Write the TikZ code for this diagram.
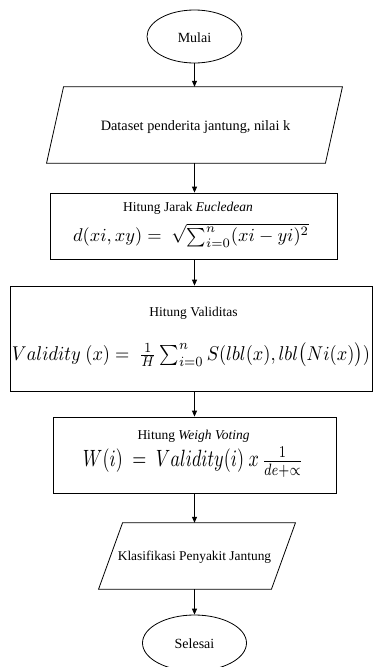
\documentclass[tikz,border=0pt]{standalone}
\usepackage{amsmath,graphicx}
\usepackage{fontspec}
\setmainfont{Liberation Serif}
\usetikzlibrary{arrows.meta,shapes.geometric}
\tikzset{
  line/.style={draw=black, line width=0.8pt},
  arr/.style={draw=black, line width=0.8pt, -{Triangle[length=6pt,width=5pt]}},
  term/.style={ellipse, line, inner sep=0pt},
  boxnode/.style={rectangle, line, inner sep=0pt},
  ghost/.style={rectangle, draw=none, inner sep=0pt},
  txt/.style={inner sep=0pt, font=\rmfamily\fontsize{13.5}{16}\selectfont},
}
\begin{document}
\begin{tikzpicture}[x=1pt,y=-1pt]
\useasboundingbox (0,0) rectangle (374,667);
\fill[white] (0,0) rectangle (374,667);

% start
\node[term, minimum width=95pt, minimum height=53pt] (start) at (194.5,36.5) {};
\node[txt, font=\rmfamily\fontsize{14}{16}\selectfont] (startT) at (194.5,37.5) {Mulai};

% input parallelogram
\node[ghost, minimum width=278.5pt, minimum height=76pt] (in) at (194.5,125) {};
\draw[line] ([xshift=8.5pt]in.north west) -- ([xshift=8.5pt]in.north east)
   -- ([xshift=-8.5pt]in.south east) -- ([xshift=-8.5pt]in.south west) -- cycle;
\node[txt, font=\rmfamily\fontsize{14.3}{16}\selectfont] (inT) at (195.5,127) {Dataset penderita jantung, nilai k};

% euclidean box
\node[boxnode, minimum width=287pt, minimum height=66pt] (euc) at (193.5,226) {};
\node[txt] (eucT) at (188,208.5) {Hitung Jarak \textit{Eucledean}};
\node[inner sep=0pt] (eucF) at (191,235) {\resizebox{236pt}{!}{$d(xi,xy) =\ \sqrt{\smash[b]{\textstyle\sum_{i=0}^{n}(xi-yi)^2}}$}};

% validity box
\node[boxnode, minimum width=362pt, minimum height=105pt] (val) at (191,338.5) {};
\node[txt] (valT) at (193.5,313) {Hitung Validitas};
\node[inner sep=0pt] (valF) at (191,355) {\resizebox*{358pt}{24pt}{$Validity\ (x) =\ \frac{1}{H}\textstyle\sum_{i=0}^{n} S(lbl(x), lbl\bigl(Ni(x)\bigr))$}};

% weight voting box
\node[boxnode, minimum width=283pt, minimum height=76pt] (wv) at (194.5,455) {};
\node[txt] (wvT) at (193.5,436.5) {Hitung \textit{Weigh Voting}};
\node[inner sep=0pt] (wvF) at (193,462) {\resizebox*{220pt}{30pt}{$W(i)\ =\ Validity(i)\ x\,\frac{1}{de+\propto}$}};

% output parallelogram
\node[ghost, minimum width=172.5pt, minimum height=66pt] (out) at (197,556) {};
\draw[line] ([xshift=12pt]out.north west) -- ([xshift=12pt]out.north east)
   -- ([xshift=-12pt]out.south east) -- ([xshift=-12pt]out.south west) -- cycle;
\node[txt, font=\rmfamily\fontsize{13.4}{16}\selectfont] (outT) at (194.5,557) {Klasifikasi Penyakit Jantung};

% end
\node[term, minimum width=104pt, minimum height=56pt] (stop) at (194.5,643) {};
\node[txt, font=\rmfamily\fontsize{14}{16}\selectfont] (stopT) at (194.5,644) {Selesai};

% connectors
\draw[arr] (start.south) -- (start.south |- in.north);
\draw[arr] (start.south |- in.south) -- (start.south |- euc.north);
\draw[arr] (start.south |- euc.south) -- (start.south |- val.north);
\draw[arr] (start.south |- val.south) -- (start.south |- wv.north);
\draw[arr] (start.south |- wv.south) -- (start.south |- out.north);
\draw[arr] (start.south |- out.south) -- (stop.north);
\end{tikzpicture}
\end{document}
